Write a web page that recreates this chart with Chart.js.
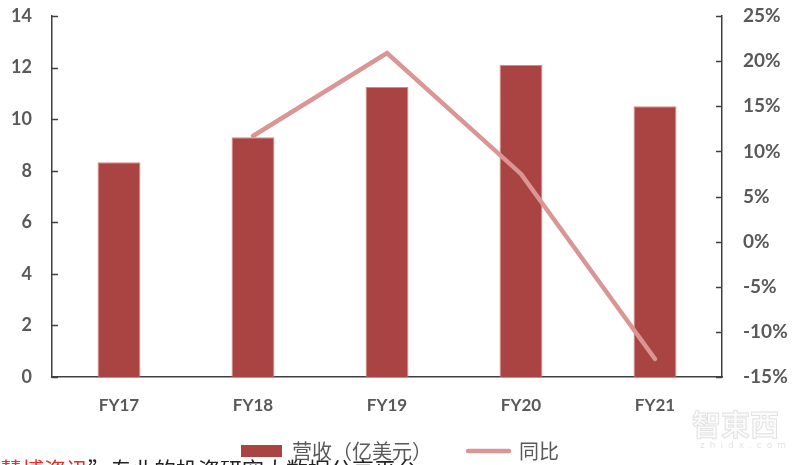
<!DOCTYPE html>
<html>
<head>
<meta charset="utf-8">
<script src="https://cdn.jsdelivr.net/npm/chart.js@4.4.0/dist/chart.umd.min.js"></script>
<style>
    html, body { margin: 0; padding: 0; background: #fff; overflow: hidden; }
    #wrap { position: relative; width: 800px; height: 465px; overflow: hidden; }
    #bottomText { position: absolute; left: 0; top: 452px; font: 22px "Noto Sans CJK SC"; white-space: nowrap; color: #222; }
    #bottomText span { color: #e0322f; }
    #wm { position: absolute; left: 692px; top: 402px; font: bold 29px "Noto Sans CJK SC"; color: #fbfbfb;
          -webkit-text-stroke: 1px #e2e2e2; }
    #wm2 { position: absolute; left: 700px; top: 440px; font: 9px "DejaVu Sans"; color: #e4e4e4; letter-spacing: 5px; }
</style>
</head>
<body>
<div id="wrap">
    <canvas id="myChart" width="800" height="465"></canvas>
    <div id="wm">智東西</div>
    <div id="wm2">zhidx.com</div>
    <div id="bottomText"><span>慧博资讯</span>”专业的投资研究大数据分享平台</div>
</div>
<script>
// 数据
const categories = ['FY17', 'FY18', 'FY19', 'FY20', 'FY21'];
const revenue = [8.33, 9.3, 11.25, 12.1, 10.5];      // 营收（亿美元）
const growth = [null, 11.7, 20.9, 7.5, -13.0];        // 同比 %
const leftTicks = [0, 2, 4, 6, 8, 10, 12, 14];
const rightTicks = [-15, -10, -5, 0, 5, 10, 15, 20, 25];

const barColor = '#a94442';
const lineColor = '#d99694';
const labelColor = '#595959';
const axisColor = '#404040';

// 刻度线画在轴内侧
const innerTicks = {
    id: 'innerTicks',
    afterDraw(chart) {
        const ctx = chart.ctx;
        const yl = chart.scales.y;
        const yr = chart.scales.y1;
        ctx.save();
        ctx.strokeStyle = axisColor;
        ctx.lineWidth = 1.5;
        ctx.beginPath();
        leftTicks.forEach(v => {
            const py = Math.round(yl.getPixelForValue(v)) + 0.5;
            ctx.moveTo(yl.right, py);
            ctx.lineTo(yl.right + 6, py);
        });
        rightTicks.forEach(v => {
            const py = Math.round(yr.getPixelForValue(v)) + 0.5;
            ctx.moveTo(yr.left, py);
            ctx.lineTo(yr.left - 6, py);
        });
        ctx.stroke();
        ctx.restore();
    }
};

const tickFont = { family: 'Lato', size: 18, weight: 'bold' };

new Chart(document.getElementById('myChart'), {
    data: {
        labels: categories,
        datasets: [{
            type: 'line',
            label: '同比',
            data: growth,
            yAxisID: 'y1',
            borderColor: lineColor,
            borderWidth: 4.5,
            pointRadius: 0,
            tension: 0,
            borderCapStyle: 'round',
            order: 0
        }, {
            type: 'bar',
            label: '营收（亿美元）',
            data: revenue,
            yAxisID: 'y',
            backgroundColor: barColor,
            borderColor: '#cf8a88',
            borderWidth: 1,
            barPercentage: 0.32,
            categoryPercentage: 1,
            order: 1
        }]
    },
    options: {
        responsive: false,
        animation: false,
        layout: { padding: { top: 16, bottom: -6, left: 0, right: 0 } },
        scales: {
            x: {
                grid: { display: false, drawTicks: false },
                border: { color: axisColor, width: 1.5 },
                ticks: { color: labelColor, font: { family: 'Lato', size: 17, weight: 'bold' }, padding: 18 },
                afterFit(scale) { scale.height = 38; }
            },
            y: {
                position: 'left',
                min: 0,
                max: 14,
                grid: { display: false, drawTicks: false },
                border: { color: axisColor, width: 1.5 },
                afterBuildTicks(scale) { scale.ticks = leftTicks.map(v => ({ value: v })); },
                ticks: { color: labelColor, font: tickFont, padding: 20 },
                afterFit(scale) { scale.width = 52; scale.paddingTop = 0; scale.paddingBottom = 0; }
            },
            y1: {
                position: 'right',
                min: -15,
                max: 25,
                grid: { display: false, drawTicks: false },
                border: { color: axisColor, width: 1.5 },
                afterBuildTicks(scale) { scale.ticks = rightTicks.map(v => ({ value: v })); },
                ticks: { color: labelColor, font: { family: 'Lato', size: 19, weight: 'bold' }, padding: 21, callback: v => v + '%' },
                afterFit(scale) { scale.width = 78; scale.paddingTop = 0; scale.paddingBottom = 0; }
            }
        },
        plugins: {
            tooltip: { enabled: false },
            legend: {
                position: 'bottom',
                labels: {
                    usePointStyle: true,
                    pointStyleWidth: 41,
                    boxHeight: 12,
                    padding: 26,
                    color: labelColor,
                    font: { family: 'Noto Sans CJK SC', size: 20 },
                    generateLabels() {
                        return [
                            { text: '营收（亿美元）\u2002', fillStyle: barColor, strokeStyle: barColor, lineWidth: 0,
                              pointStyle: 'rect', datasetIndex: 1, fontColor: labelColor },
                            { text: '同比', fillStyle: lineColor, strokeStyle: lineColor, lineWidth: 4.5,
                              lineCap: 'round', pointStyle: 'line', datasetIndex: 0, fontColor: labelColor }
                        ];
                    }
                }
            }
        }
    },
    plugins: [innerTicks]
});
</script>
</body>
</html>
